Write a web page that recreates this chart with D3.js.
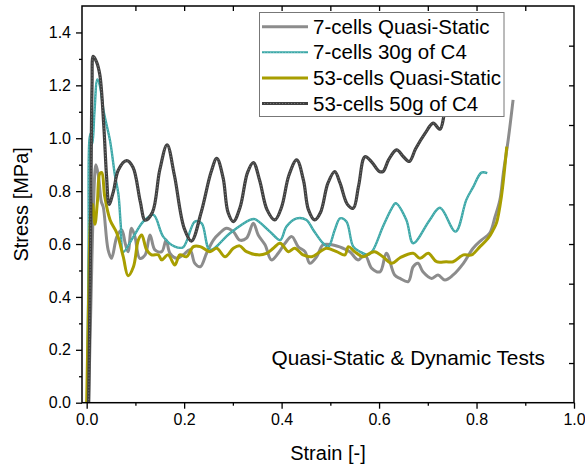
<!DOCTYPE html>
<html>
<head>
<meta charset="utf-8">
<script src="https://cdn.jsdelivr.net/npm/d3@7"></script>
<style>
  body { margin: 0; background: #fff; }
  svg { font-family: "Liberation Sans", Arial, sans-serif; }
</style>
</head>
<body>
<div id="chart"></div>
<script>
// series names (legend order)
var seriesNames = ['7-cells Quasi-Static', '7-cells 30g of C4', '53-cells Quasi-Static', '53-cells 50g of C4'];

// [strain, stress MPa]
var cells7Static = [
  [0.004,0],[0.009,0.4],[0.014,0.75],[0.019,0.9],[0.024,0.86],[0.03,0.76],[0.034,0.74],[0.044,0.578],[0.051,0.546],
  [0.062,0.628],[0.072,0.653],[0.079,0.603],[0.085,0.571],[0.092,0.66],[0.099,0.628],[0.109,0.546],[0.12,0.559],
  [0.13,0.634],[0.14,0.578],[0.154,0.571],[0.163,0.615],[0.171,0.565],[0.185,0.546],[0.198,0.559],[0.212,0.578],
  [0.222,0.527],[0.233,0.514],[0.246,0.565],[0.26,0.615],[0.273,0.641],[0.287,0.66],[0.301,0.647],[0.314,0.615],
  [0.328,0.622],[0.342,0.679],[0.352,0.634],[0.366,0.597],[0.379,0.54],[0.393,0.565],[0.407,0.603],[0.421,0.628],
  [0.434,0.59],[0.448,0.571],[0.458,0.527],[0.472,0.552],[0.485,0.597],[0.503,0.597],[0.526,0.584],[0.54,0.571],
  [0.557,0.54],[0.571,0.559],[0.585,0.508],[0.602,0.495],[0.615,0.565],[0.632,0.483],[0.643,0.47],[0.66,0.458],
  [0.67,0.514],[0.68,0.527],[0.69,0.495],[0.708,0.47],[0.721,0.483],[0.735,0.464],[0.752,0.483],[0.773,0.527],
  [0.793,0.584],[0.81,0.615],[0.827,0.641],[0.838,0.703],[0.848,0.767],[0.855,0.868],[0.865,0.994],[0.875,1.145]
];

var cells7Blast = [
  [0.001,0],[0.004,0.6],[0.006,1.0],[0.009,1.02],[0.012,0.98],[0.016,1.1],[0.022,1.222],[0.027,1.2],[0.035,1.1],
  [0.048,0.99],[0.058,0.86],[0.065,0.79],[0.07,0.67],[0.075,0.57],[0.096,0.628],[0.116,0.685],[0.137,0.71],
  [0.157,0.628],[0.181,0.59],[0.198,0.588],[0.222,0.685],[0.236,0.678],[0.253,0.578],[0.294,0.641],[0.335,0.691],
  [0.345,0.694],[0.376,0.647],[0.397,0.615],[0.41,0.666],[0.431,0.697],[0.451,0.691],[0.465,0.653],[0.485,0.603],
  [0.496,0.59],[0.509,0.653],[0.52,0.697],[0.533,0.685],[0.547,0.59],[0.561,0.571],[0.578,0.559],[0.588,0.578],
  [0.608,0.666],[0.626,0.735],[0.634,0.754],[0.656,0.691],[0.67,0.603],[0.704,0.691],[0.725,0.737],[0.757,0.647],
  [0.779,0.767],[0.793,0.815],[0.81,0.87],[0.822,0.868]
];

var cells53Static = [
  [0.0,0],[0.004,0.4],[0.008,0.7],[0.012,0.75],[0.017,0.675],[0.022,0.76],[0.027,0.867],[0.031,0.87],[0.037,0.78],
  [0.048,0.691],[0.062,0.641],[0.075,0.552],[0.085,0.48],[0.096,0.514],[0.106,0.615],[0.113,0.634],[0.123,0.578],
  [0.133,0.559],[0.147,0.559],[0.154,0.54],[0.167,0.559],[0.181,0.521],[0.191,0.559],[0.205,0.552],[0.219,0.59],
  [0.233,0.59],[0.253,0.571],[0.267,0.584],[0.284,0.552],[0.301,0.584],[0.314,0.593],[0.328,0.571],[0.352,0.559],
  [0.369,0.565],[0.383,0.584],[0.397,0.603],[0.414,0.571],[0.427,0.584],[0.444,0.559],[0.462,0.552],[0.479,0.571],
  [0.492,0.584],[0.513,0.571],[0.53,0.559],[0.537,0.59],[0.55,0.571],[0.567,0.552],[0.581,0.565],[0.591,0.571],
  [0.608,0.552],[0.626,0.527],[0.643,0.548],[0.67,0.565],[0.684,0.546],[0.701,0.565],[0.718,0.533],[0.738,0.533],
  [0.752,0.533],[0.773,0.559],[0.79,0.559],[0.807,0.59],[0.824,0.622],[0.834,0.653],[0.841,0.68],[0.851,0.779],
  [0.862,0.968]
];

var cells53Blast = [
  [0.004,0],[0.008,0.6],[0.011,1.2],[0.0135,1.31],[0.02,1.29],[0.027,1.24],[0.035,1.05],[0.041,0.85],[0.046,0.75],
  [0.055,0.8],[0.065,0.88],[0.082,0.915],[0.095,0.89],[0.11,0.76],[0.12,0.69],[0.135,0.72],[0.15,0.88],[0.165,0.975],
  [0.18,0.86],[0.2,0.66],[0.215,0.611],[0.235,0.72],[0.255,0.87],[0.267,0.924],[0.28,0.85],[0.29,0.72],[0.301,0.685],
  [0.315,0.74],[0.33,0.87],[0.342,0.908],[0.355,0.84],[0.37,0.73],[0.386,0.691],[0.4,0.74],[0.415,0.86],[0.431,0.918],
  [0.445,0.84],[0.455,0.73],[0.468,0.691],[0.48,0.72],[0.495,0.83],[0.509,0.874],[0.52,0.83],[0.535,0.75],[0.547,0.735],
  [0.558,0.82],[0.571,0.93],[0.585,0.91],[0.6,0.875],[0.608,0.874],[0.62,0.92],[0.636,0.956],[0.65,0.93],[0.662,0.912],
  [0.675,0.96],[0.695,1.02],[0.711,1.057],[0.725,1.034],[0.735,1.1],[0.74,1.12]
];

var xTicks = [0, 0.2, 0.4, 0.6, 0.8, 1.0];
var yTicks = [0, 0.2, 0.4, 0.6, 0.8, 1.0, 1.2, 1.4];

var width = 585, height = 469;
var pLeft = 82, pRight = 574, pTop = 6, pBottom = 402.7;

var svg = d3.select('#chart').append('svg')
  .attr('width', width)
  .attr('height', height);

var x = d3.scaleLinear().domain([-0.0096, 1.0]).range([pLeft, pRight]);
var y = d3.scaleLinear().domain([0, 1.5]).range([pBottom, pTop]);

svg.append('clipPath').attr('id', 'clip')
  .append('rect').attr('x', pLeft).attr('y', pTop).attr('width', pRight - pLeft).attr('height', pBottom - pTop);

var line = d3.line()
  .x(function(d){ return x(d[0]); })
  .y(function(d){ return y(d[1]); })
  .curve(d3.curveCatmullRom.alpha(0.5));

var plot = svg.append('g').attr('clip-path', 'url(#clip)');

// styles: outer stroke, and optional light dotted core
var styles = [
  { color: '#8c8c8c', w: 3, core: null },
  { color: '#3aa7a7', w: 2.4, core: '#86c9c9' },
  { color: '#a89e00', w: 3, core: null },
  { color: '#404040', w: 3.2, core: '#858585' }
];
var allSeries = [cells7Static, cells7Blast, cells53Static, cells53Blast];

allSeries.forEach(function(s, i){
  var st = styles[i];
  plot.append('path').datum(s)
    .attr('d', line)
    .attr('fill', 'none')
    .attr('stroke', st.color)
    .attr('stroke-width', st.w)
    .attr('stroke-linejoin', 'round');
  if (st.core) {
    plot.append('path').datum(s)
      .attr('d', line)
      .attr('fill', 'none')
      .attr('stroke', st.core)
      .attr('stroke-width', 0.8)
      .attr('stroke-dasharray', '1.2,1.8');
  }
});

// axes
var fmt = d3.format('.1f');
svg.append('g').attr('transform', 'translate(0,' + pBottom + ')')
  .call(d3.axisBottom(x).tickValues(xTicks).tickFormat(fmt).tickSize(6).tickPadding(5));
svg.append('g').attr('transform', 'translate(0,' + pBottom + ')')
  .call(d3.axisBottom(x).tickValues(d3.range(0.1, 1.0, 0.2)).tickFormat('').tickSize(3));
svg.append('g').attr('transform', 'translate(' + pLeft + ',0)')
  .call(d3.axisLeft(y).tickValues(yTicks).tickFormat(fmt).tickSize(6).tickPadding(5));
svg.append('g').attr('transform', 'translate(' + pLeft + ',0)')
  .call(d3.axisLeft(y).tickValues(d3.range(0.1, 1.5, 0.2)).tickFormat('').tickSize(3));
svg.append('g').attr('transform', 'translate(0,' + pTop + ')')
  .call(d3.axisBottom(x).tickValues(d3.range(0.1, 0.95, 0.1)).tickFormat('').tickSize(5));
svg.append('g').attr('transform', 'translate(' + pRight + ',0)')
  .call(d3.axisLeft(y).tickValues(d3.range(0.15, 1.45, 0.15)).tickFormat('').tickSize(5));

svg.selectAll('.domain').remove();
svg.selectAll('.tick line').attr('stroke', '#000').attr('stroke-width', 1.3);
svg.selectAll('.tick text').attr('font-size', 16).attr('fill', '#000')
  .attr('font-family', '"Liberation Sans", Arial, sans-serif');

svg.append('rect')
  .attr('x', pLeft).attr('y', pTop)
  .attr('width', pRight - pLeft).attr('height', pBottom - pTop)
  .attr('fill', 'none').attr('stroke', '#000').attr('stroke-width', 1.5);

// titles
svg.append('text')
  .attr('x', (pLeft + pRight) / 2).attr('y', 460)
  .attr('text-anchor', 'middle').attr('font-size', 20)
  .text('Strain [-]');
svg.append('text')
  .attr('transform', 'translate(28,' + ((pTop + pBottom) / 2) + ') rotate(-90)')
  .attr('text-anchor', 'middle').attr('font-size', 20)
  .text('Stress [MPa]');
svg.append('text')
  .attr('x', 545).attr('y', 365)
  .attr('text-anchor', 'end').attr('font-size', 20.8)
  .text('Quasi-Static & Dynamic Tests');

// legend
var lg = svg.append('g');
lg.append('rect')
  .attr('x', 259.5).attr('y', 12.5).attr('width', 244.5).attr('height', 104)
  .attr('fill', '#fff').attr('stroke', '#777').attr('stroke-width', 1);
seriesNames.forEach(function(name, i){
  var cy = 26.7 + i * 25.6;
  var st = styles[i];
  lg.append('line').attr('x1', 262).attr('x2', 308).attr('y1', cy).attr('y2', cy)
    .attr('stroke', st.color).attr('stroke-width', i === 1 ? 2 : st.w);
  if (st.core) {
    lg.append('line').attr('x1', 264).attr('x2', 306).attr('y1', cy).attr('y2', cy)
      .attr('stroke', st.core).attr('stroke-width', 0.8).attr('stroke-dasharray', '1.2,1.8');
  }
  lg.append('text').attr('x', 313).attr('y', cy + 7)
    .attr('font-size', 20.5).text(name);
});
</script>
</body>
</html>
